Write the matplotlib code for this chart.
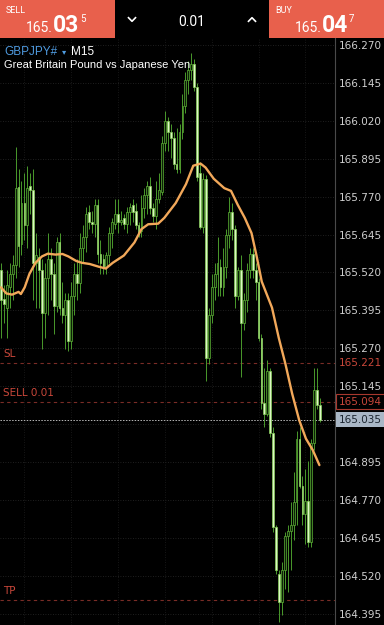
import numpy as np
import matplotlib
matplotlib.use('Agg')
import matplotlib.pyplot as plt
from matplotlib.patches import Rectangle
from matplotlib.lines import Line2D

# GBPJPY M15 candles
opens = [165.527, 165.434, 165.404, 165.471, 165.515, 165.545, 165.801, 165.613, 165.749, 165.675,
         165.805, 165.792, 165.552, 165.570, 165.527, 165.385, 165.502, 165.564, 165.515, 165.410,
         165.619, 165.404, 165.379, 165.428, 165.293, 165.441, 165.515, 165.484, 165.601, 165.638,
         165.718, 165.687, 165.681, 165.743, 165.582, 165.564, 165.539, 165.576, 165.650, 165.681,
         165.712, 165.687, 165.700, 165.681, 165.718, 165.743, 165.724, 165.675, 165.657, 165.731,
         165.774, 165.805, 165.731, 165.706, 165.761, 165.786, 165.947, 166.020, 165.984, 165.965,
         165.879, 165.860, 165.984, 166.070, 166.156, 166.187, 166.206, 166.132, 165.848, 165.669,
         165.829, 165.237, 165.379, 165.471, 165.515, 165.539, 165.471, 165.539, 165.644, 165.718,
         165.663, 165.441, 165.527, 165.354, 165.428, 165.527, 165.582, 165.527, 165.490, 165.305,
         165.089, 165.052, 165.194, 164.990, 164.682, 164.527, 164.435, 164.540, 164.651, 164.669,
         164.688, 164.762, 164.972, 164.817, 164.725, 164.768, 164.632, 164.959, 165.132, 165.083]
highs = [165.552, 165.478, 165.527, 165.552, 165.576, 165.934, 165.860, 165.823, 165.848, 165.872,
         165.848, 165.860, 165.650, 165.601, 165.564, 165.552, 165.650, 165.601, 165.552, 165.638,
         165.650, 165.490, 165.453, 165.453, 165.490, 165.552, 165.564, 165.650, 165.675, 165.737,
         165.743, 165.724, 165.761, 165.761, 165.626, 165.582, 165.589, 165.669, 165.700, 165.761,
         165.761, 165.724, 165.712, 165.737, 165.749, 165.761, 165.749, 165.687, 165.774, 165.798,
         165.823, 165.835, 165.749, 165.823, 165.848, 165.971, 166.051, 166.033, 166.008, 165.984,
         165.996, 166.008, 166.107, 166.181, 166.218, 166.243, 166.224, 166.144, 165.885, 165.848,
         165.842, 165.404, 165.515, 165.552, 165.638, 165.564, 165.601, 165.663, 165.768, 165.749,
         165.675, 165.539, 165.576, 165.453, 165.552, 165.601, 165.601, 165.552, 165.502, 165.317,
         165.206, 165.231, 165.206, 165.009, 164.688, 164.540, 164.564, 164.663, 164.688, 164.762,
         164.861, 164.996, 165.009, 164.848, 164.873, 164.898, 164.972, 165.206, 165.206, 165.107]
lows = [165.305, 165.354, 165.305, 165.404, 165.428, 165.502, 165.539, 165.576, 165.626, 165.601,
        165.712, 165.428, 165.404, 165.404, 165.268, 165.305, 165.379, 165.428, 165.317, 165.391,
        165.379, 165.354, 165.268, 165.262, 165.268, 165.379, 165.428, 165.453, 165.552, 165.589,
        165.663, 165.650, 165.638, 165.552, 165.515, 165.515, 165.515, 165.552, 165.601, 165.663,
        165.650, 165.675, 165.663, 165.650, 165.675, 165.687, 165.663, 165.638, 165.638, 165.700,
        165.712, 165.712, 165.687, 165.663, 165.749, 165.774, 165.922, 165.922, 165.897, 165.860,
        165.848, 165.848, 165.959, 166.045, 166.107, 166.156, 166.119, 165.823, 165.663, 165.650,
        165.163, 165.218, 165.354, 165.428, 165.441, 165.441, 165.441, 165.502, 165.601, 165.626,
        165.404, 165.428, 165.175, 165.330, 165.391, 165.502, 165.502, 165.428, 165.293, 165.070,
        165.009, 165.046, 164.978, 164.663, 164.527, 164.367, 164.392, 164.478, 164.466, 164.540,
        164.638, 164.688, 164.811, 164.688, 164.626, 164.614, 164.614, 164.935, 165.070, 165.027]
closes = [165.428, 165.416, 165.478, 165.515, 165.545, 165.798, 165.607, 165.749, 165.675, 165.798,
          165.792, 165.552, 165.576, 165.527, 165.385, 165.502, 165.564, 165.515, 165.410, 165.619,
          165.404, 165.379, 165.428, 165.293, 165.441, 165.515, 165.484, 165.601, 165.638, 165.712,
          165.687, 165.681, 165.743, 165.582, 165.552, 165.539, 165.576, 165.650, 165.687, 165.712,
          165.687, 165.694, 165.681, 165.718, 165.737, 165.718, 165.675, 165.650, 165.731, 165.774,
          165.805, 165.731, 165.706, 165.761, 165.792, 165.947, 166.020, 165.984, 165.965, 165.879,
          165.860, 165.984, 166.070, 166.156, 166.187, 166.206, 166.132, 165.835, 165.669, 165.829,
          165.237, 165.379, 165.471, 165.515, 165.552, 165.471, 165.539, 165.644, 165.718, 165.663,
          165.441, 165.527, 165.354, 165.428, 165.527, 165.582, 165.527, 165.490, 165.305, 165.089,
          165.052, 165.194, 164.990, 164.682, 164.540, 164.435, 164.540, 164.651, 164.669, 164.688,
          164.762, 164.972, 164.817, 164.725, 164.768, 164.632, 164.959, 165.132, 165.083, 165.035]

# moving average (orange line), sampled at candle positions
ma_idx = [0, 1.8, 3.8, 6, 6.8, 8.1, 9.7, 11.8, 14, 16, 18.6, 21, 23, 25.7, 27.6, 30.3, 33.4, 35.8,
          38.2, 42, 45.6, 48, 50.3, 53.7, 55.8, 59.7, 63.2, 65.7, 68.2, 69.9, 72.7, 76.3, 78.6,
          80.9, 83.3, 85.6, 87.3, 89.1, 92.6, 94.9, 97.2, 99.5, 101.9, 104.2, 106.5, 108.8]
ma_val = [165.471, 165.451, 165.447, 165.456, 165.449, 165.471, 165.515, 165.552, 165.573, 165.582,
          165.579, 165.581, 165.573, 165.558, 165.552, 165.548, 165.539, 165.533, 165.552, 165.576,
          165.619, 165.663, 165.679, 165.681, 165.700, 165.749, 165.811, 165.872, 165.879, 165.866,
          165.829, 165.798, 165.789, 165.743, 165.700, 165.650, 165.576, 165.490, 165.404, 165.305,
          165.218, 165.120, 165.033, 164.972, 164.935, 164.885]

tick_levels = [166.270, 166.145, 166.020, 165.895, 165.770, 165.645, 165.520, 165.395, 165.270,
               165.145, 165.020, 164.895, 164.770, 164.645, 164.520, 164.395]
sl_price = 165.221
entry_price = 165.094
tp_price = 164.441
bid = 165.035

BG = '#000000'
RED_BAR = '#e8604c'
WICK = '#4a9a2c'
BULL_FACE = '#0c2008'
BULL_EDGE = '#5fb436'
BEAR_FACE = '#dcf7c4'
BEAR_EDGE = '#86cf58'
ORDER_RED = '#c9473a'
ORDER_LINE = '#7a2c26'

W, H = 384, 625


def fx(x):
    return x / W


def fy(y):
    return 1 - y / H


fig = plt.figure(figsize=(W / 100, H / 100), dpi=100, facecolor=BG)

# chart area
ax = fig.add_axes([0, 0, 335 / W, 587 / H], facecolor=BG)
o = np.array(opens)
h = np.array(highs)
l = np.array(lows)
c = np.array(closes)
idx = np.arange(len(c))
bull = c >= o

for lv in tick_levels:
    ax.axhline(lv, color='#2a2a2a', lw=0.6, ls=(0, (1, 2)), zorder=0)
for xv in range(8, 115, 16):
    ax.axvline(xv, color='#1e1e1e', lw=0.6, ls=(0, (1, 2)), zorder=0)

ax.vlines(idx, l, h, color=WICK, lw=0.7, zorder=2)
ax.bar(idx[bull], np.maximum(c - o, 0.002)[bull], bottom=o[bull], width=0.62,
       facecolor=BULL_FACE, edgecolor=BULL_EDGE, linewidth=0.5, zorder=3)
ax.bar(idx[~bull], np.maximum(o - c, 0.002)[~bull], bottom=c[~bull], width=0.62,
       facecolor=BEAR_FACE, edgecolor=BEAR_EDGE, linewidth=0.5, zorder=3)

ax.plot(ma_idx, ma_val, color='#f2a85a', lw=1.7, zorder=4, solid_capstyle='round')

# order lines
for p in (sl_price, entry_price, tp_price):
    ax.axhline(p, color=ORDER_LINE, lw=0.8, ls=(0, (3, 3)), zorder=1)
ax.axhline(bid, color='#b8b8b8', lw=0.7, ls=(0, (1.5, 1.5)), zorder=1)

tr = ax.get_yaxis_transform()
for p, name in ((sl_price, 'SL'), (entry_price, 'SELL 0.01'), (tp_price, 'TP')):
    ax.annotate(name, (0.01, p), xycoords=tr, xytext=(0, 3), textcoords='offset points',
                color=ORDER_RED, fontsize=7.5, va='bottom', ha='left')

ax.set_xlim(-0.34, 114.13)
ax.set_ylim(164.3577, 166.2931)
ax.set_xticks([])
ax.yaxis.tick_right()
ax.set_yticks(tick_levels)
# the 165.020 label sits behind the bid tag in the app
ax.set_yticklabels(['' if abs(v - 165.020) < 1e-6 else f'{v:.3f}' for v in tick_levels])
ax.tick_params(axis='y', length=0, pad=3, labelsize=7.5, labelcolor='#cfcfcf')
for s in ('top', 'left', 'bottom'):
    ax.spines[s].set_visible(False)
ax.spines['right'].set_color('#4a4a4a')
ax.spines['right'].set_linewidth(0.8)

# price tags on the axis
ax.text(1.012, sl_price, f'{sl_price:.3f}', transform=tr, color=ORDER_RED, fontsize=7.5,
        va='center', ha='left', zorder=6, clip_on=False)
ax.text(1.012, entry_price, f'{entry_price:.3f}', transform=tr, color=ORDER_RED, fontsize=7.5,
        va='center', ha='left', zorder=6, clip_on=False,
        bbox=dict(boxstyle='square,pad=0.25', facecolor=BG, edgecolor='#a8382e', lw=0.8))
ax.text(1.012, bid, f'{bid:.3f}', transform=tr, color='#1b2530', fontsize=7.5,
        va='center', ha='left', zorder=7, clip_on=False,
        bbox=dict(boxstyle='square,pad=0.25', facecolor='#a9b7c6', edgecolor='none'))

# header of the chart
fig.text(fx(4), fy(55), 'GBPJPY#', color='#4f9be0', fontsize=8.5, family='Liberation Sans', va='baseline')
fig.text(fx(62), fy(54), '▾', color='#4f9be0', fontsize=6, family='DejaVu Sans', va='baseline')
fig.text(fx(71), fy(55), 'M15', color='white', fontsize=8.5, family='Liberation Sans', va='baseline')
fig.text(fx(4), fy(68), 'Great Britain Pound vs Japanese Yen', color='white', fontsize=8,
         family='Liberation Sans', va='baseline')

# trade bar on top
fig.add_artist(Rectangle((0, fy(38)), fx(115), 38 / H, transform=fig.transFigure,
                         facecolor=RED_BAR, edgecolor='none'))
fig.add_artist(Rectangle((fx(269), fy(38)), fx(115), 38 / H, transform=fig.transFigure,
                         facecolor=RED_BAR, edgecolor='none'))

for x0, label, big, small in ((6, 'SELL', '03', '5'), (275, 'BUY', '04', '7')):
    fig.text(fx(x0), fy(13), label, color='white', fontsize=6.5, family='Roboto', va='baseline')
    fig.text(fx(x0 + 47), fy(32), '165.', color='white', fontsize=10, family='Roboto',
             va='baseline', ha='right')
    fig.text(fx(x0 + 47), fy(32), big, color='white', fontsize=16.5, family='Roboto',
             weight='bold', va='baseline', ha='left')
    fig.text(fx(x0 + 74), fy(22), small, color='white', fontsize=7, family='Roboto', va='baseline')

fig.text(fx(192), fy(26), '0.01', color='white', fontsize=10, family='Roboto', va='baseline', ha='center')
for cx, d in ((132, 1), (252, -1)):
    fig.add_artist(Line2D([fx(cx - 3.5), fx(cx), fx(cx + 3.5)],
                          [fy(19.5 - 1.8 * d), fy(19.5 + 1.8 * d), fy(19.5 - 1.8 * d)],
                          transform=fig.transFigure, color='white', lw=1.2))

fig.savefig('out.png', dpi=100, facecolor=BG)
